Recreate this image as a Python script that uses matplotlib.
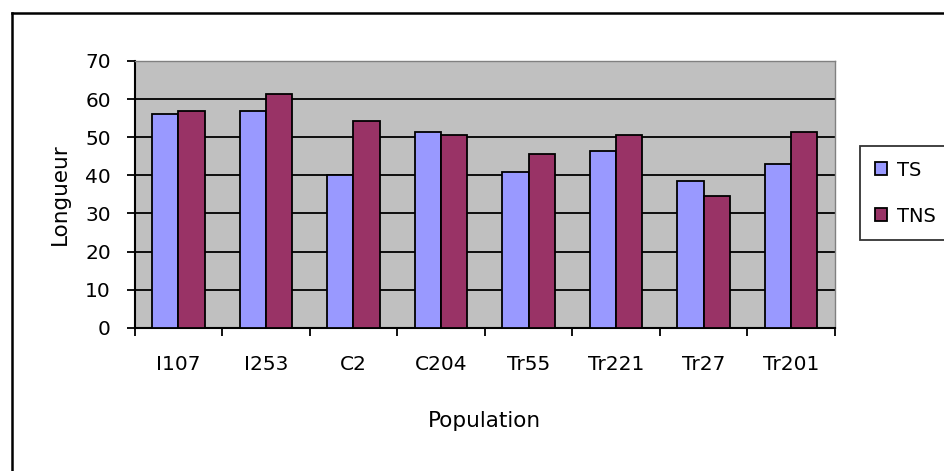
import numpy as np
import matplotlib
matplotlib.use("Agg")
import matplotlib.pyplot as plt
from matplotlib.lines import Line2D

populations = ["I107", "I253", "C2", "C204", "Tr55", "Tr221", "Tr27", "Tr201"]
ts_values = [56.2, 57.0, 40.0, 51.4, 40.8, 46.3, 38.6, 42.9]
tns_values = [56.9, 61.3, 54.2, 50.7, 45.6, 50.7, 34.5, 51.4]
y_ticks = [0, 10, 20, 30, 40, 50, 60, 70]

plt.rcParams["font.family"] = ["DejaVu Sans"]
FS = 14.5

W, H = 945, 471
fig = plt.figure(figsize=(W / 100, H / 100), dpi=100)
fig.patch.set_facecolor("white")

# plot area in pixel coordinates
left, right, top, bottom = 134.5, 835, 61, 327.7
ax = fig.add_axes([left / W, 1 - bottom / H, (right - left) / W, (bottom - top) / H])
ax.set_facecolor("#C0C0C0")

x = np.arange(len(populations))
bw = 0.30
ax.bar(x - bw / 2, ts_values, bw, color="#9999FF", edgecolor="black",
       linewidth=1.3, label="TS", zorder=3)
ax.bar(x + bw / 2, tns_values, bw, color="#993366", edgecolor="black",
       linewidth=1.3, label="TNS", zorder=3)

ax.set_xlim(-0.5, len(populations) - 0.5)
ax.set_ylim(0, 70)
ax.set_yticks(y_ticks)
ax.yaxis.grid(True, color="black", linewidth=1.3, zorder=1)
ax.set_axisbelow(True)

# category ticks sit between groups, labels at group centres
ax.set_xticks(np.arange(len(populations) + 1) - 0.5)
ax.set_xticklabels([])
ax.set_xticks(x, minor=True)
ax.set_xticklabels(populations, minor=True, fontsize=FS)
ax.tick_params(axis="x", which="major", direction="out", length=6, width=1.3)
ax.tick_params(axis="x", which="minor", length=0, pad=20)
ax.tick_params(axis="y", direction="out", length=6, width=1.3, labelsize=FS, pad=11)

for side in ("left", "bottom"):
    ax.spines[side].set_color("black")
    ax.spines[side].set_linewidth(1.5)
for side in ("top", "right"):
    ax.spines[side].set_color("#808080")
    ax.spines[side].set_linewidth(1.0)

ax.set_xlabel("Population", fontsize=15.5)
ax.xaxis.set_label_coords(0.5, -(421 - bottom) / (bottom - top), transform=ax.transAxes)
ax.xaxis.label.set_va("center")
ax.set_ylabel("Longueur", fontsize=15.5)
ax.yaxis.set_label_coords(-(left - 60) / (right - left), 0.5, transform=ax.transAxes)
ax.yaxis.label.set_va("center")

# legend on the right
leg = fig.legend(loc="upper left", bbox_to_anchor=(860 / W, 1 - 146 / H),
                 frameon=True, fontsize=14, handlelength=0.65, handleheight=0.65,
                 handletextpad=0.5, labelspacing=1.4, borderpad=0.75,
                 borderaxespad=0, fancybox=False)
leg.get_frame().set_edgecolor("black")
leg.get_frame().set_linewidth(1.3)

# chart frame (left and top edges)
fig.add_artist(Line2D([11.5 / W, 11.5 / W], [0, 1 - 13.3 / H], color="black",
                      linewidth=1.8, transform=fig.transFigure))
fig.add_artist(Line2D([11.5 / W, 1], [1 - 13.3 / H, 1 - 13.3 / H], color="black",
                      linewidth=1.8, transform=fig.transFigure))

fig.savefig("out.png", dpi=100)
